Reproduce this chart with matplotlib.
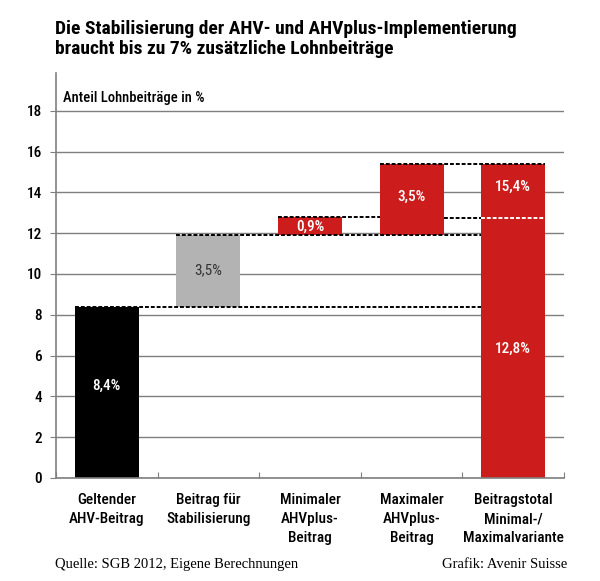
import numpy as np
import matplotlib.pyplot as plt

plt.rcParams['font.family'] = ['Roboto Condensed', 'DejaVu Sans']

kategorien = ["Geltender\nAHV-Beitrag", "Beitrag für\nStabilisierung", "Minimaler\nAHVplus-\nBeitrag",
              "Maximaler\nAHVplus-\nBeitrag", "Beitragstotal\nMinimal-/\nMaximalvariante"]
unten = [0, 8.4, 11.9, 11.9, 0]
hoehe = [8.4, 3.5, 0.9, 3.5, 15.4]
farben = ["#000000", "#b3b3b3", "#cc1c1c", "#cc1c1c", "#cc1c1c"]
beschriftung = ["8,4%", "3,5%", "0,9%", "3,5%", "15,4%"]
minimal_total = 12.8
yticks = [0, 2, 4, 6, 8, 10, 12, 14, 16, 18]

fig = plt.figure(figsize=(6, 5.81), dpi=100)
ax = fig.add_axes([0.0933, 0.1773, 0.8467, 0.697])

x = np.arange(len(kategorien))
breite = 0.63

ax.set_ylim(0, 19.85)
ax.set_xlim(-0.5, len(kategorien) - 0.5)
ax.set_yticks(yticks)
ax.yaxis.grid(True, color="#7f7f7f", linewidth=1)
ax.set_axisbelow(True)

ax.bar(x, hoehe, bottom=unten, width=breite, color=farben, zorder=2)

# gestrichelte Verbindungslinien
strich = dict(color="black", linestyle=(0, (2, 1)), linewidth=1.4, zorder=3)
links5 = x[4] - breite / 2
rechts5 = x[4] + breite / 2
ax.plot([x[0] - breite / 2, links5], [8.4, 8.4], **strich)
ax.plot([x[1] - breite / 2, links5], [11.9, 11.9], **strich)
ax.plot([x[2] - breite / 2, x[3] - breite / 2], [12.8, 12.8], **strich)
ax.plot([x[3] + breite / 2, links5], [12.75, 12.75], **strich)
ax.plot([x[3] - breite / 2, rechts5], [15.4, 15.4], **strich)
ax.plot([links5, rechts5], [12.72, 12.72], color="white", linestyle=(0, (2, 1)), linewidth=1.4, zorder=3)

# Beschriftungen
textfarben = ["white", "#333333", "white", "white", "white"]
ypos = [4.5, 10.2, 12.3, 13.8, 14.25]
for i in range(len(kategorien)):
    ax.text(x[i], ypos[i], beschriftung[i], ha="center", va="center", color=textfarben[i],
            fontsize=11, fontweight="medium" if i != 1 else "normal", zorder=4)
ax.text(x[4], 6.35, "12,8%", ha="center", va="center", color="white", fontsize=11, fontweight="medium", zorder=4)

ax.text(0.014, 18.65, "Anteil Lohnbeiträge in %", transform=ax.get_yaxis_transform(),
        fontsize=10.5, fontweight="medium", va="center")

for s in ["top", "right"]:
    ax.spines[s].set_visible(False)
ax.spines["left"].set_color("#7f7f7f")
ax.spines["bottom"].set_color("#7f7f7f")
ax.spines["left"].set_linewidth(1.2)
ax.spines["bottom"].set_linewidth(1.2)

ax.tick_params(axis="y", length=4, color="#7f7f7f", labelsize=11, pad=6)
for t in ax.get_yticklabels():
    t.set_fontweight("medium")
ax.set_xticks(np.arange(len(kategorien) + 1) - 0.5)
ax.set_xticklabels([])
ax.tick_params(axis="x", length=4, color="#7f7f7f", direction="in")
for i, k in enumerate(kategorien):
    ax.text(x[i], -0.75, k, ha="center", va="top", fontsize=11, fontweight="medium", linespacing=1.45)

fig.text(0.092, 0.965, "Die Stabilisierung der AHV- und AHVplus-Implementierung\nbraucht bis zu 7% zusätzliche Lohnbeiträge",
         fontsize=14, fontweight="bold", va="top", linespacing=1.15)
fig.text(0.092, 0.022, "Quelle: SGB 2012, Eigene Berechnungen", family="Liberation Serif", fontsize=10.5)
fig.text(0.945, 0.022, "Grafik: Avenir Suisse", family="Liberation Serif", fontsize=10.5, ha="right")

fig.savefig("out.png", dpi=100)
